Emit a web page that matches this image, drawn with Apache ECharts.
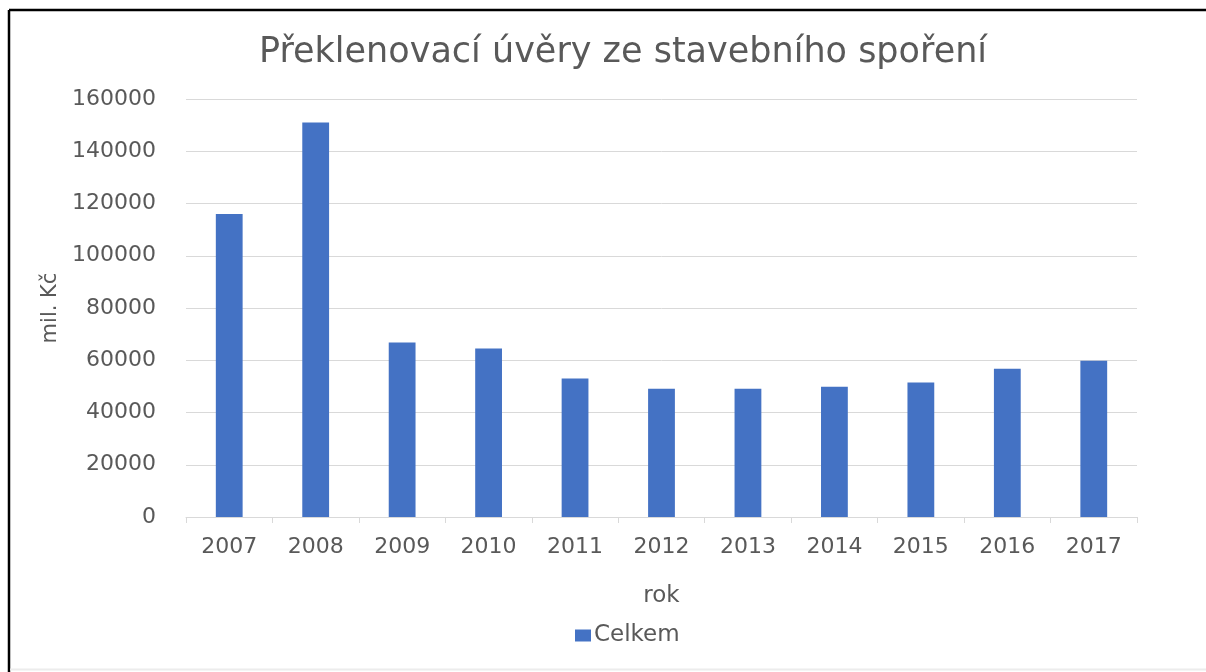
<!DOCTYPE html>
<html>
<head>
<meta charset="utf-8">
<script src="https://cdn.jsdelivr.net/npm/echarts@6/dist/echarts.min.js"></script>
<style>
  html, body { margin: 0; padding: 0; background: #fff; }
  #chart { width: 1206px; height: 672px; }
</style>
</head>
<body>
<div id="chart"></div>
<script>
// Překlenovací úvěry ze stavebního spoření, mil. Kč
const years = ['2007', '2008', '2009', '2010', '2011', '2012', '2013', '2014', '2015', '2016', '2017'];
const celkem = [116000, 151000, 66800, 64500, 53000, 49100, 49100, 49900, 51500, 56700, 59800];
const yTicks = [0, 20000, 40000, 60000, 80000, 100000, 120000, 140000, 160000];

const textColor = '#595959';
const font = 'DejaVu Sans';

const chart = echarts.init(document.getElementById('chart'));
chart.setOption({
  backgroundColor: '#ffffff',
  animation: false,
  title: {
    text: 'Překlenovací úvěry ze stavebního spoření',
    left: 618,
    top: 30,
    textAlign: 'center',
    textStyle: { color: textColor, fontFamily: font, fontSize: 35, fontWeight: 'normal' }
  },
  legend: {
    data: ['Celkem'],
    icon: 'rect',
    bottom: 20,
    left: 570,
    itemWidth: 16,
    itemHeight: 12,
    itemGap: 6,
    textStyle: { color: textColor, fontFamily: font, fontSize: 23, padding: [0, 0, 0, -2] }
  },
  grid: { left: 186, right: 69, top: 99, bottom: 155 },
  xAxis: {
    type: 'category',
    data: years,
    name: 'rok',
    nameLocation: 'middle',
    nameGap: 68,
    nameTextStyle: { color: textColor, fontFamily: font, fontSize: 23 },
    axisLine: { lineStyle: { color: '#d9d9d9', width: 1 } },
    axisTick: { show: true, length: 6, lineStyle: { color: '#d9d9d9' } },
    axisLabel: { color: textColor, fontFamily: font, fontSize: 22, margin: 19 }
  },
  yAxis: {
    type: 'value',
    min: yTicks[0],
    max: yTicks[yTicks.length - 1],
    interval: yTicks[1] - yTicks[0],
    name: 'mil. Kč',
    nameLocation: 'middle',
    nameGap: 125,
    nameTextStyle: { color: textColor, fontFamily: font, fontSize: 21 },
    axisLine: { show: false },
    axisTick: { show: false },
    axisLabel: {
      color: textColor, fontFamily: font, fontSize: 22, margin: 30,
      formatter: (v) => String(v)
    },
    splitLine: { lineStyle: { color: '#d9d9d9', width: 1 } }
  },
  series: [{
    name: 'Celkem',
    type: 'bar',
    data: celkem,
    barWidth: '31%',
    itemStyle: { color: '#4472c4' }
  }],
  graphic: [
    { type: 'line', shape: { x1: 9, y1: 10, x2: 1206, y2: 10 }, style: { stroke: '#000', lineWidth: 2.5 } },
    { type: 'line', shape: { x1: 9, y1: 10, x2: 9, y2: 672 }, style: { stroke: '#000', lineWidth: 2.5 } },
    { type: 'line', shape: { x1: 10, y1: 669.5, x2: 1206, y2: 669.5 }, style: { stroke: '#ececec', lineWidth: 2 } }
  ]
});
</script>
</body>
</html>
